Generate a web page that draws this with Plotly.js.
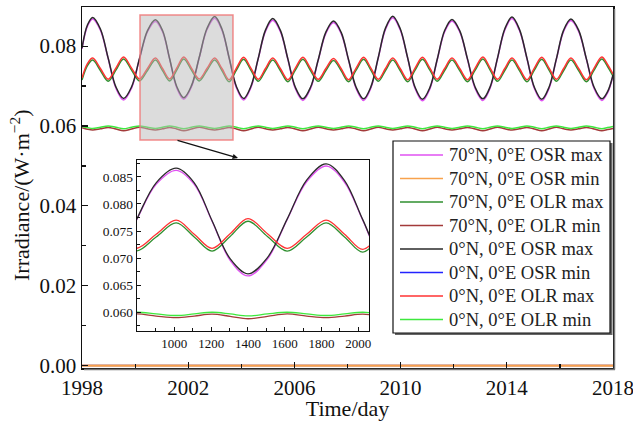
<!DOCTYPE html>
<html><head><meta charset="utf-8">
<script src="https://cdn.plot.ly/plotly-3.0.1.min.js"></script>
<style>html,body{margin:0;padding:0;background:#fff;}#chart{width:633px;height:421px;}</style>
</head><body><div id="chart"></div>
<script>
// days since 1998-01-01
const days = [0,75,147,253,360,466,572,682,791,901,1010,1108,1205,1303,1400,1506,1613,1719,1825,1925,2024,2124,2223,2323,2424,2524,2624,2728,2832,2935,3039,3144,3250,3355,3460,3564,3667,3771,3874,3974,4075,4175,4275,4377,4480,4582,4684,4786,4887,4989,5090,5196,5303,5409,5515,5615,5716,5816,5916,6018,6121,6223,6325,6425,6526,6626,6726,6832,6939,7045,7151,7230,7305];

const osrMax70 = [0.0793,0.0850,0.0868,
0.0840,0.0769,0.0695,0.0665, 0.0695,0.0768,0.0836,0.0862,
0.0836,0.0768,0.0696,0.0667, 0.0698,0.0771,0.0841,0.0870,
0.0840,0.0770,0.0696,0.0665, 0.0696,0.0768,0.0837,0.0865,
0.0837,0.0767,0.0694,0.0664, 0.0694,0.0765,0.0832,0.0859,
0.0832,0.0765,0.0694,0.0664, 0.0695,0.0770,0.0842,0.0871,
0.0841,0.0770,0.0694,0.0663, 0.0693,0.0766,0.0836,0.0863,
0.0836,0.0767,0.0694,0.0664, 0.0695,0.0769,0.0840,0.0869,
0.0839,0.0769,0.0694,0.0663, 0.0694,0.0767,0.0837,0.0864,
0.0837,0.0767,0.0694,0.0664, 0.0683,0.0726];

const osrMax0 = [0.0795,0.0853,0.0872,
0.0843,0.0770,0.0698,0.0669, 0.0698,0.0769,0.0839,0.0866,
0.0839,0.0769,0.0699,0.0671, 0.0701,0.0772,0.0844,0.0874,
0.0843,0.0771,0.0699,0.0669, 0.0699,0.0769,0.0840,0.0869,
0.0840,0.0768,0.0697,0.0668, 0.0697,0.0766,0.0835,0.0863,
0.0835,0.0766,0.0697,0.0668, 0.0698,0.0771,0.0845,0.0875,
0.0844,0.0771,0.0697,0.0667, 0.0696,0.0767,0.0839,0.0867,
0.0839,0.0768,0.0697,0.0668, 0.0698,0.0770,0.0843,0.0873,
0.0842,0.0770,0.0697,0.0667, 0.0697,0.0768,0.0840,0.0868,
0.0840,0.0768,0.0697,0.0668, 0.0686,0.0728];

const olrMax0 = [0.0720,0.0756,0.0770,
0.0744,0.0717,0.0745,0.0773, 0.0745,0.0718,0.0744,0.0770,
0.0744,0.0718,0.0745,0.0773, 0.0745,0.0718,0.0744,0.0770,
0.0744,0.0716,0.0745,0.0772, 0.0745,0.0717,0.0744,0.0770,
0.0744,0.0716,0.0745,0.0772, 0.0744,0.0717,0.0744,0.0769,
0.0744,0.0716,0.0745,0.0772, 0.0745,0.0717,0.0744,0.0770,
0.0744,0.0716,0.0745,0.0772, 0.0745,0.0717,0.0744,0.0770,
0.0744,0.0716,0.0745,0.0773, 0.0745,0.0717,0.0744,0.0770,
0.0744,0.0716,0.0745,0.0772, 0.0745,0.0717,0.0744,0.0770,
0.0744,0.0716,0.0745,0.0773, 0.0754,0.0730];

const olrMax70 = [0.0715,0.0751,0.0765,
0.0739,0.0712,0.0740,0.0768, 0.0740,0.0713,0.0739,0.0765,
0.0739,0.0713,0.0740,0.0768, 0.0740,0.0713,0.0739,0.0765,
0.0739,0.0711,0.0740,0.0767, 0.0740,0.0712,0.0739,0.0765,
0.0739,0.0711,0.0740,0.0767, 0.0739,0.0712,0.0739,0.0764,
0.0739,0.0711,0.0740,0.0767, 0.0740,0.0712,0.0739,0.0765,
0.0739,0.0711,0.0740,0.0767, 0.0740,0.0712,0.0739,0.0765,
0.0739,0.0711,0.0740,0.0768, 0.0740,0.0712,0.0739,0.0765,
0.0739,0.0711,0.0740,0.0767, 0.0740,0.0712,0.0739,0.0765,
0.0739,0.0711,0.0740,0.0768, 0.0749,0.0725];

const olrMin0 = [0.05990,0.05960,0.05940,
0.05970,0.06000,0.05970,0.05932, 0.05970,0.06000,0.05970,0.05940,
0.05970,0.06000,0.05970,0.05932, 0.05970,0.06000,0.05970,0.05940,
0.05970,0.06000,0.05970,0.05932, 0.05970,0.06000,0.05970,0.05940,
0.05970,0.06000,0.05970,0.05932, 0.05970,0.06000,0.05970,0.05940,
0.05970,0.06000,0.05970,0.05932, 0.05970,0.06000,0.05970,0.05940,
0.05970,0.06000,0.05970,0.05932, 0.05970,0.06000,0.05970,0.05940,
0.05970,0.06000,0.05970,0.05932, 0.05970,0.06000,0.05970,0.05940,
0.05970,0.06000,0.05970,0.05932, 0.05970,0.06000,0.05970,0.05940,
0.05970,0.06000,0.05970,0.05932, 0.05960,0.05990];

const olrMin70 = [0.05960,0.05920,0.05900,
0.05930,0.05965,0.05925,0.05880, 0.05925,0.05970,0.05930,0.05900,
0.05930,0.05965,0.05925,0.05880, 0.05925,0.05970,0.05930,0.05900,
0.05930,0.05965,0.05925,0.05880, 0.05925,0.05970,0.05930,0.05900,
0.05930,0.05965,0.05925,0.05880, 0.05925,0.05970,0.05930,0.05900,
0.05930,0.05965,0.05925,0.05880, 0.05925,0.05970,0.05930,0.05900,
0.05930,0.05965,0.05925,0.05880, 0.05925,0.05970,0.05930,0.05900,
0.05930,0.05965,0.05925,0.05880, 0.05925,0.05970,0.05930,0.05900,
0.05930,0.05965,0.05925,0.05880, 0.05925,0.05970,0.05930,0.05900,
0.05930,0.05965,0.05925,0.05880, 0.05910,0.05940];

const osrMinDays = [0, 7305];
const osrMin70 = [0, 0];
const osrMin0 = [0, 0];

const yearTickDays = [0,1461,2922,4383,5844,7305];
const yearTickText = ['1998','2002','2006','2010','2014','2018'];
const insetTickDays = [1000,1200,1400,1600,1800,2000];

const names = ['70°N, 0°E OSR max','70°N, 0°E OSR min','70°N, 0°E OLR max','70°N, 0°E OLR min',
               '0°N, 0°E OSR max','0°N, 0°E OSR min','0°N, 0°E OLR max','0°N, 0°E OLR min'];
const colors = ['#e052f2','#f8a24c','#2f8f2f','#a33a3a','#2a2a2a','#2323ff','#ff3333','#3ee83e'];

const series = [
  {i:0, x:days, y:osrMax70},
  {i:2, x:days, y:olrMax70},
  {i:3, x:days, y:olrMin70},
  {i:4, x:days, y:osrMax0},
  {i:5, x:osrMinDays, y:osrMin0},
  {i:1, x:osrMinDays, y:osrMin70},
  {i:6, x:days, y:olrMax0},
  {i:7, x:days, y:olrMin0}
];

const traces = [];
series.forEach(s => {
  traces.push({type:'scatter', mode:'lines', x:s.x, y:s.y, name:names[s.i], showlegend:false,
    line:{color:colors[s.i], width:(s.i===1?2.2:1.5), shape:'spline', smoothing:1}, xaxis:'x', yaxis:'y'});
});
series.forEach(s => {
  if (s.i===1 || s.i===5) return;
  traces.push({type:'scatter', mode:'lines', x:s.x, y:s.y, name:names[s.i], showlegend:false,
    line:{color:colors[s.i], width:1.3, shape:'spline', smoothing:1}, xaxis:'x2', yaxis:'y2'});
});

// pixel -> paper helpers for the hand-placed legend
const L = 82, R = 613, T = 7, B = 368;
const px = v => (v - L) / (R - L);
const py = v => (B - v) / (B - T);

const serif = 'Liberation Serif, Times New Roman, serif';
const shapes = [
  {type:'rect', xref:'x', yref:'y', x0:798, x1:2077, y0:0.0565, y1:0.0878, layer:'above',
   fillcolor:'rgba(185,185,185,0.5)', line:{color:'rgba(240,120,120,0.85)', width:1.5}},
  // frame shadow
  {type:'line', xref:'paper', yref:'paper', x0:px(614.5), x1:px(614.5), y0:py(9), y1:py(369.5), layer:'above',
   line:{color:'#777', width:1.5}},
  {type:'line', xref:'paper', yref:'paper', x0:px(84), x1:px(615), y0:py(369.5), y1:py(369.5), layer:'above',
   line:{color:'#777', width:1.5}},
  // legend box shadow + box
  {type:'rect', xref:'paper', yref:'paper', x0:px(395), x1:px(612.5), y0:py(335), y1:py(143), layer:'above',
   fillcolor:'#666', line:{width:0}},
  {type:'rect', xref:'paper', yref:'paper', x0:px(393), x1:px(610), y0:py(333), y1:py(141), layer:'above',
   fillcolor:'#fff', line:{color:'#111', width:1.2}}
];
const annotations = [
  {xref:'paper', yref:'paper', x:px(20), y:py(195), text:'Irradiance/(W·m<sup>−2</sup>)', textangle:-90,
   showarrow:false, font:{family:serif, size:22, color:'#111'}, xanchor:'center', yanchor:'middle'},
  {xref:'paper', yref:'paper', x:0.2938, y:0.5817, ax:-62, ay:-18, text:'', showarrow:true,
   arrowhead:2, arrowsize:0.9, arrowwidth:1.2, arrowcolor:'#111'}
];
names.forEach((n, i) => {
  const yc = 155 + 23.5 * i;
  shapes.push({type:'line', xref:'paper', yref:'paper', x0:px(400), x1:px(443), y0:py(yc), y1:py(yc), layer:'above',
    line:{color:colors[i], width:1.6}});
  annotations.push({xref:'paper', yref:'paper', x:px(447), y:py(yc), text:n, showarrow:false,
    xanchor:'left', yanchor:'middle', font:{family:serif, size:18.5, color:'#222'}});
});

const layout = {
  width:633, height:421,
  margin:{l:82, r:20, t:7, b:53},
  paper_bgcolor:'#fff', plot_bgcolor:'rgba(0,0,0,0)',
  font:{family:serif, color:'#111', size:21},
  showlegend:false,
  xaxis:{domain:[0,1], range:[0,7305], tickmode:'array', tickvals:yearTickDays, ticktext:yearTickText,
    ticks:'inside', ticklen:6, tickwidth:1.2, tickcolor:'#111', showline:true, linecolor:'#111', linewidth:1.5,
    mirror:true, showgrid:false, zeroline:false, tickfont:{size:21}, ticklabeloverflow:'allow',
    minor:{tickmode:'linear', tick0:0, dtick:730.5, ticks:'inside', ticklen:4, tickcolor:'#111', showgrid:false},
    title:{text:'Time/day', font:{size:22}, standoff:0}},
  yaxis:{domain:[0,1], range:[-0.0006,0.0898], tickmode:'linear', tick0:0, dtick:0.02, tickformat:'.2f',
    ticks:'inside', ticklen:6, tickwidth:1.2, tickcolor:'#111', showline:true, linecolor:'#111', linewidth:1.5,
    mirror:true, showgrid:false, zeroline:false, tickfont:{size:21}, ticklabeloverflow:'allow',
    minor:{tickmode:'linear', tick0:0, dtick:0.01, ticks:'inside', ticklen:4, tickcolor:'#111', showgrid:false}},
  xaxis2:{domain:[0.1036,0.5405], anchor:'y2', range:[797,2058], tickmode:'array', tickvals:insetTickDays,
    ticks:'inside', ticklen:4, tickcolor:'#111', showline:true, linecolor:'#111', linewidth:1.3, mirror:true,
    showgrid:false, zeroline:false, tickfont:{size:13},
    minor:{tickmode:'linear', tick0:1000, dtick:100, ticks:'inside', ticklen:2.5, tickcolor:'#111', showgrid:false}},
  yaxis2:{domain:[0.1025,0.576], anchor:'x2', range:[0.05654,0.0881], tickmode:'linear', tick0:0.06, dtick:0.005,
    tickformat:'.3f', ticks:'inside', ticklen:4, tickcolor:'#111', showline:true, linecolor:'#111', linewidth:1.3,
    mirror:true, showgrid:false, zeroline:false, tickfont:{size:13.5},
    minor:{tickmode:'linear', tick0:0.06, dtick:0.0025, ticks:'inside', ticklen:2.5, tickcolor:'#111', showgrid:false}},
  shapes: shapes,
  annotations: annotations
};
Plotly.newPlot('chart', traces, layout, {displayModeBar:false, staticPlot:true});
</script></body></html>
